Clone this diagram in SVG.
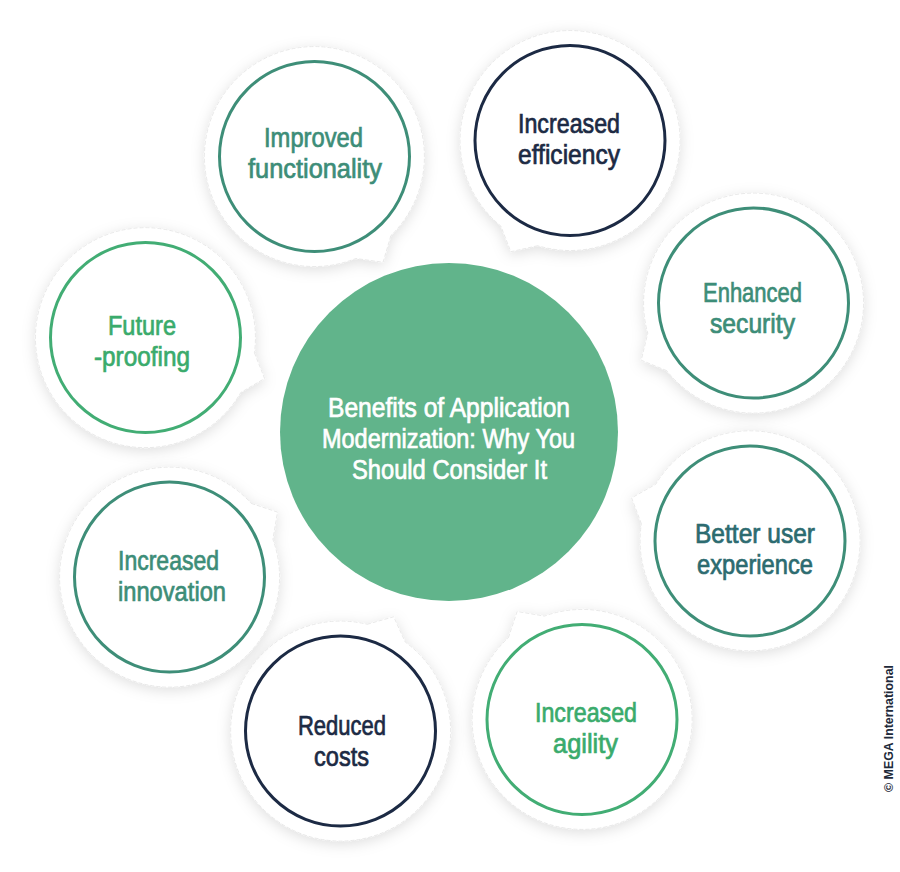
<svg xmlns="http://www.w3.org/2000/svg" width="900" height="872" viewBox="0 0 900 872">
<defs>
<filter id="sh" x="-30%" y="-30%" width="160%" height="160%">
<feDropShadow dx="0" dy="3" stdDeviation="7" flood-color="#000" flood-opacity="0.13"/>
</filter>
<style>
.bub{fill:#fff;stroke:#e4e4e4;stroke-width:0.8;stroke-dasharray:4 2;filter:url(#sh)}
.ring{fill:#fff;stroke-width:3}
.teal{stroke:#3e8e78}
.green{stroke:#42ad74}
.navy{stroke:#1c2a44}
.t{font-family:"Liberation Sans Narrow","Liberation Sans","DejaVu Sans Condensed",sans-serif;font-size:27px;text-anchor:middle;stroke-width:0.7}
.tt{fill:#3d8d78;stroke:#3d8d78}.tg{fill:#3aab6c;stroke:#3aab6c}.tn{fill:#1c2a44;stroke:#1c2a44}.td{fill:#2c6b70;stroke:#2c6b70}
.ct{fill:#fff;stroke:#fff}
</style>
</defs>
<rect width="900" height="872" fill="#fff"/>

<g id="node-improved-functionality">
<path class="bub" d="M390.9,235.6 L383.1,262.2 L355.7,258.5 A110,110 0 1 1 390.9,235.6 Z"/>
<circle class="ring teal" cx="314.5" cy="156.5" r="95"/>
<text class="t tt"><tspan x="313.5" y="147" textLength="99" lengthAdjust="spacingAndGlyphs">Improved</tspan><tspan x="315" y="178" textLength="134" lengthAdjust="spacingAndGlyphs">functionality</tspan></text>
</g>

<g id="node-increased-efficiency">
<path class="bub" d="M537.8,245.7 L510.8,251.7 L500.8,226.0 A110,110 0 1 1 537.8,245.7 Z"/>
<circle class="ring navy" cx="570" cy="140.5" r="95"/>
<text class="t tn"><tspan x="569" y="132.5" textLength="102" lengthAdjust="spacingAndGlyphs">Increased</tspan><tspan x="569" y="163.5" textLength="102" lengthAdjust="spacingAndGlyphs">efficiency</tspan></text>
</g>

<g id="node-future-proofing">
<path class="bub" d="M254.4,352.8 L264.6,378.5 L240.8,392.5 A110,110 0 1 1 254.4,352.8 Z"/>
<circle class="ring green" cx="145.5" cy="337.5" r="95"/>
<text class="t tg"><tspan x="142" y="334.5" textLength="68" lengthAdjust="spacingAndGlyphs">Future</tspan><tspan x="142" y="365.5" textLength="96" lengthAdjust="spacingAndGlyphs">-proofing</tspan></text>
</g>

<g id="node-enhanced-security">
<path class="bub" d="M666.8,370.7 L641.2,360.2 L647.8,333.3 A110,110 0 1 1 666.8,370.7 Z"/>
<circle class="ring teal" cx="753.5" cy="303" r="95"/>
<text class="t tt"><tspan x="752.5" y="302" textLength="99" lengthAdjust="spacingAndGlyphs">Enhanced</tspan><tspan x="752.5" y="333" textLength="85" lengthAdjust="spacingAndGlyphs">security</tspan></text>
</g>

<g id="node-better-user-experience">
<path class="bub" d="M641.4,523.8 L631.6,497.9 L655.7,484.3 A110,110 0 1 1 641.4,523.8 Z"/>
<circle class="ring teal" cx="750" cy="541" r="95"/>
<text class="t td"><tspan x="755" y="542.5" textLength="120" lengthAdjust="spacingAndGlyphs">Better user</tspan><tspan x="755" y="573.5" textLength="116" lengthAdjust="spacingAndGlyphs">experience</tspan></text>
</g>

<g id="node-increased-agility">
<path class="bub" d="M508.4,637.8 L517.1,611.5 L544.4,616.1 A110,110 0 1 1 508.4,637.8 Z"/>
<circle class="ring green" cx="582" cy="719.5" r="95"/>
<text class="t tg"><tspan x="586" y="721.5" textLength="102" lengthAdjust="spacingAndGlyphs">Increased</tspan><tspan x="585.5" y="752.5" textLength="65" lengthAdjust="spacingAndGlyphs">agility</tspan></text>
</g>

<g id="node-reduced-costs">
<path class="bub" d="M367.1,624.3 L393.7,616.8 L405.2,642.0 A110,110 0 1 1 367.1,624.3 Z"/>
<circle class="ring navy" cx="340.5" cy="731" r="95"/>
<text class="t tn"><tspan x="342" y="734.5" textLength="88" lengthAdjust="spacingAndGlyphs">Reduced</tspan><tspan x="341.5" y="765.5" textLength="55" lengthAdjust="spacingAndGlyphs">costs</tspan></text>
</g>

<g id="node-increased-innovation">
<path class="bub" d="M251.2,503.4 L277.5,512.1 L272.9,539.4 A110,110 0 1 1 251.2,503.4 Z"/>
<circle class="ring teal" cx="169.5" cy="577" r="95"/>
<text class="t tt"><tspan x="168.5" y="570" textLength="101" lengthAdjust="spacingAndGlyphs">Increased</tspan><tspan x="172" y="601" textLength="108" lengthAdjust="spacingAndGlyphs">innovation</tspan></text>
</g>

<g id="node-center">
<circle cx="449" cy="432" r="169" fill="#61b48b"/>
<text class="t ct"><tspan x="449" y="417" textLength="242" lengthAdjust="spacingAndGlyphs">Benefits of Application</tspan><tspan x="448.5" y="448" textLength="253" lengthAdjust="spacingAndGlyphs">Modernization: Why You</tspan><tspan x="449.5" y="479" textLength="195" lengthAdjust="spacingAndGlyphs">Should Consider It</tspan></text>
</g>

<text x="0" y="0" transform="translate(893,728.5) rotate(-90)" font-family="'Liberation Sans',Arial,sans-serif" font-size="12" font-weight="bold" fill="#1e2a3a" text-anchor="middle" textLength="127" lengthAdjust="spacingAndGlyphs">© MEGA International</text>
</svg>
